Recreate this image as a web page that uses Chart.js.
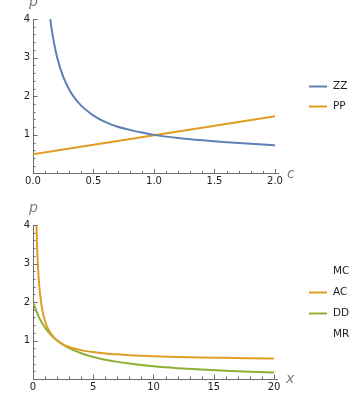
<!DOCTYPE html>
<html><head><meta charset="utf-8">
<script src="https://cdn.jsdelivr.net/npm/chart.js@4/dist/chart.umd.min.js"></script>
<style>
html,body{margin:0;padding:0;background:#fff;}
.wrap{position:relative;width:360px;height:200px;}
canvas{display:block;}
</style></head><body>
<div class="wrap"><canvas id="c1" width="360" height="200"></canvas></div>
<div class="wrap"><canvas id="c2" width="360" height="200"></canvas></div>
<script>
// ---- Top chart data ----
const zzC = [0.143,0.15,0.16,0.18,0.2,0.25,0.3,0.35,0.4,0.5,0.6,0.7,0.8,0.9,1.0,1.2,1.4,1.6,1.8,2.0];
const zzP = [4.0,3.83,3.63,3.28,3.0,2.5,2.17,1.93,1.75,1.5,1.33,1.21,1.13,1.06,1.0,0.92,0.86,0.81,0.77,0.73];
const ppC = [0,1,2];
const ppP = [0.5,0.99,1.48];
const topXTicks = [0,0.5,1,1.5,2];
const topXMinor = [0.1,0.2,0.3,0.4,0.6,0.7,0.8,0.9,1.1,1.2,1.3,1.4,1.6,1.7,1.8,1.9];
const topYTicks = [1,2,3,4];
const topYMinor = [0.2,0.4,0.6,0.8,1.2,1.4,1.6,1.8,2.2,2.4,2.6,2.8,3.2,3.4,3.6,3.8];
const topLegend = ["ZZ","PP"];

// ---- Bottom chart data ----
const acX = [0.286,0.3,0.33,0.36,0.4,0.45,0.5,0.6,0.7,0.8,1.0,1.25,1.5,2.0,2.5,3,4,5,6,7,8,9,10,12,14,16,18,20];
const acP = [4.0,3.83,3.5,3.28,3.0,2.72,2.5,2.17,1.93,1.75,1.5,1.3,1.17,1.0,0.9,0.83,0.75,0.7,0.665,0.64,0.62,0.605,0.592,0.574,0.56,0.55,0.54,0.532];
const ddX = [0,0.5,1,1.5,2,2.5,3,4,5,6,7,8,9,10,12,14,16,18,20];
const ddP = [2.0,1.6,1.33,1.14,1.0,0.89,0.8,0.67,0.57,0.5,0.445,0.4,0.362,0.33,0.282,0.245,0.215,0.19,0.17];
const botXTicks = [0,5,10,15,20];
const botXMinor = [1,2,3,4,6,7,8,9,11,12,13,14,16,17,18,19];
const botYTicks = [1,2,3,4];
const botYMinor = topYMinor;
const botLegend = ["MC","AC","DD","MR"];

const BLUE = '#5E81B5', ORANGE = '#E19C24', GREEN = '#8FB032', NONE = 'rgba(0,0,0,0)';
const AXIS = '#6e6e6e', LABEL = '#222', AXLAB = '#7a7a7a';
const FONT = 'DejaVu Sans';

function pts(xs, ys){ return xs.map((x,i)=>({x:x, y:ys[i]})); }
function ds(label, xs, ys, color){
  return {label, data: pts(xs, ys), borderColor: color, backgroundColor: color,
    borderWidth: 2, pointRadius: 0, fill: false, cubicInterpolationMode: 'monotone'};
}

const mmaPlugin = {
  id: 'mma',
  afterDraw(chart){
    const o = chart.options.plugins.mma;
    const ctx = chart.ctx, xs = chart.scales.x, ys = chart.scales.y, a = chart.chartArea;
    ctx.save();
    ctx.strokeStyle = AXIS; ctx.lineWidth = 1;
    const tick = (v, len, isX) => {
      ctx.beginPath();
      if (isX){ const p = Math.round(xs.getPixelForValue(v)) + 0.5; ctx.moveTo(p, a.bottom); ctx.lineTo(p, a.bottom - len); }
      else { const p = Math.round(ys.getPixelForValue(v)) + 0.5; ctx.moveTo(a.left, p); ctx.lineTo(a.left + len, p); }
      ctx.stroke();
    };
    o.xMajor.forEach(v=>tick(v,4.5,true)); o.xMinor.forEach(v=>tick(v,2.5,true));
    o.yMajor.forEach(v=>tick(v,4.5,false)); o.yMinor.forEach(v=>tick(v,2.5,false));
    // axis labels
    ctx.fillStyle = AXLAB;
    ctx.font = 'italic 14px ' + FONT;
    ctx.textAlign = 'center'; ctx.textBaseline = 'alphabetic';
    ctx.fillText(o.yLabel, a.left + 0.5, a.top - 13);
    ctx.textAlign = 'left';
    ctx.fillText(o.xLabel, a.right + 9, a.bottom + 4);
    // legend
    const n = chart.data.datasets.length, cy = (a.top + a.bottom)/2;
    ctx.font = '10.5px ' + FONT; ctx.textBaseline = 'middle';
    chart.data.datasets.forEach((d,i)=>{
      const y = Math.round(cy + (i - (n-1)/2) * o.rowH) + 0.5;
      if (d.borderColor !== NONE){
        ctx.strokeStyle = d.borderColor; ctx.lineWidth = 2;
        ctx.beginPath(); ctx.moveTo(309, y); ctx.lineTo(327, y); ctx.stroke();
      }
      ctx.fillStyle = LABEL;
      ctx.fillText(d.label, 333, y);
    });
    ctx.restore();
  }
};

function make(id, datasets, cfg){
  return new Chart(document.getElementById(id), {
    type: 'line',
    data: { datasets },
    plugins: [mmaPlugin],
    options: {
      responsive: false, animation: false, events: [],
      layout: { padding: { top: cfg.padTop, right: cfg.padRight, bottom: 0, left: 0 } },
      plugins: { legend: { display: false }, tooltip: { enabled: false },
        mma: { xMajor: cfg.xMajor, xMinor: cfg.xMinor, yMajor: cfg.yMajor, yMinor: cfg.yMinor,
               xLabel: cfg.xLabel, yLabel: 'p', rowH: cfg.rowH } },
      scales: {
        x: { type: 'linear', min: 0, max: cfg.xMax,
          afterBuildTicks: s => { s.ticks = cfg.xMajor.map(v=>({value:v})); },
          afterFit: s => { s.height = cfg.xAxisH; },
          ticks: { callback: cfg.xFmt, color: LABEL, font: { family: FONT, size: 10 }, padding: 2, maxRotation: 0, autoSkip: false },
          grid: { display: false, drawTicks: false },
          border: { display: true, color: AXIS, width: 1 } },
        y: { type: 'linear', min: 0, max: 4,
          afterBuildTicks: s => { s.ticks = cfg.yMajor.map(v=>({value:v})); },
          afterFit: s => { s.width = 33; },
          ticks: { callback: v => String(v), color: LABEL, font: { family: FONT, size: 10 }, padding: 3, autoSkip: false },
          grid: { display: false, drawTicks: false },
          border: { display: true, color: AXIS, width: 1 } }
      }
    }
  });
}

make('c1', [ds(topLegend[0], zzC, zzP, BLUE), ds(topLegend[1], ppC, ppP, ORANGE)], {
  padTop: 19, padRight: 82, xAxisH: 26.5, xMax: 2.025, rowH: 20,
  xMajor: topXTicks, xMinor: topXMinor, yMajor: topYTicks, yMinor: topYMinor,
  xLabel: 'c', xFmt: v => Number(v).toFixed(1)
});
make('c2', [ds(botLegend[0], [], [], NONE), ds(botLegend[1], acX, acP, ORANGE),
            ds(botLegend[2], ddX, ddP, GREEN), ds(botLegend[3], [], [], NONE)], {
  padTop: 25, padRight: 83, xAxisH: 21, xMax: 20.25, rowH: 21,
  xMajor: botXTicks, xMinor: botXMinor, yMajor: botYTicks, yMinor: botYMinor,
  xLabel: 'x', xFmt: v => String(v)
});
</script>
</body></html>
